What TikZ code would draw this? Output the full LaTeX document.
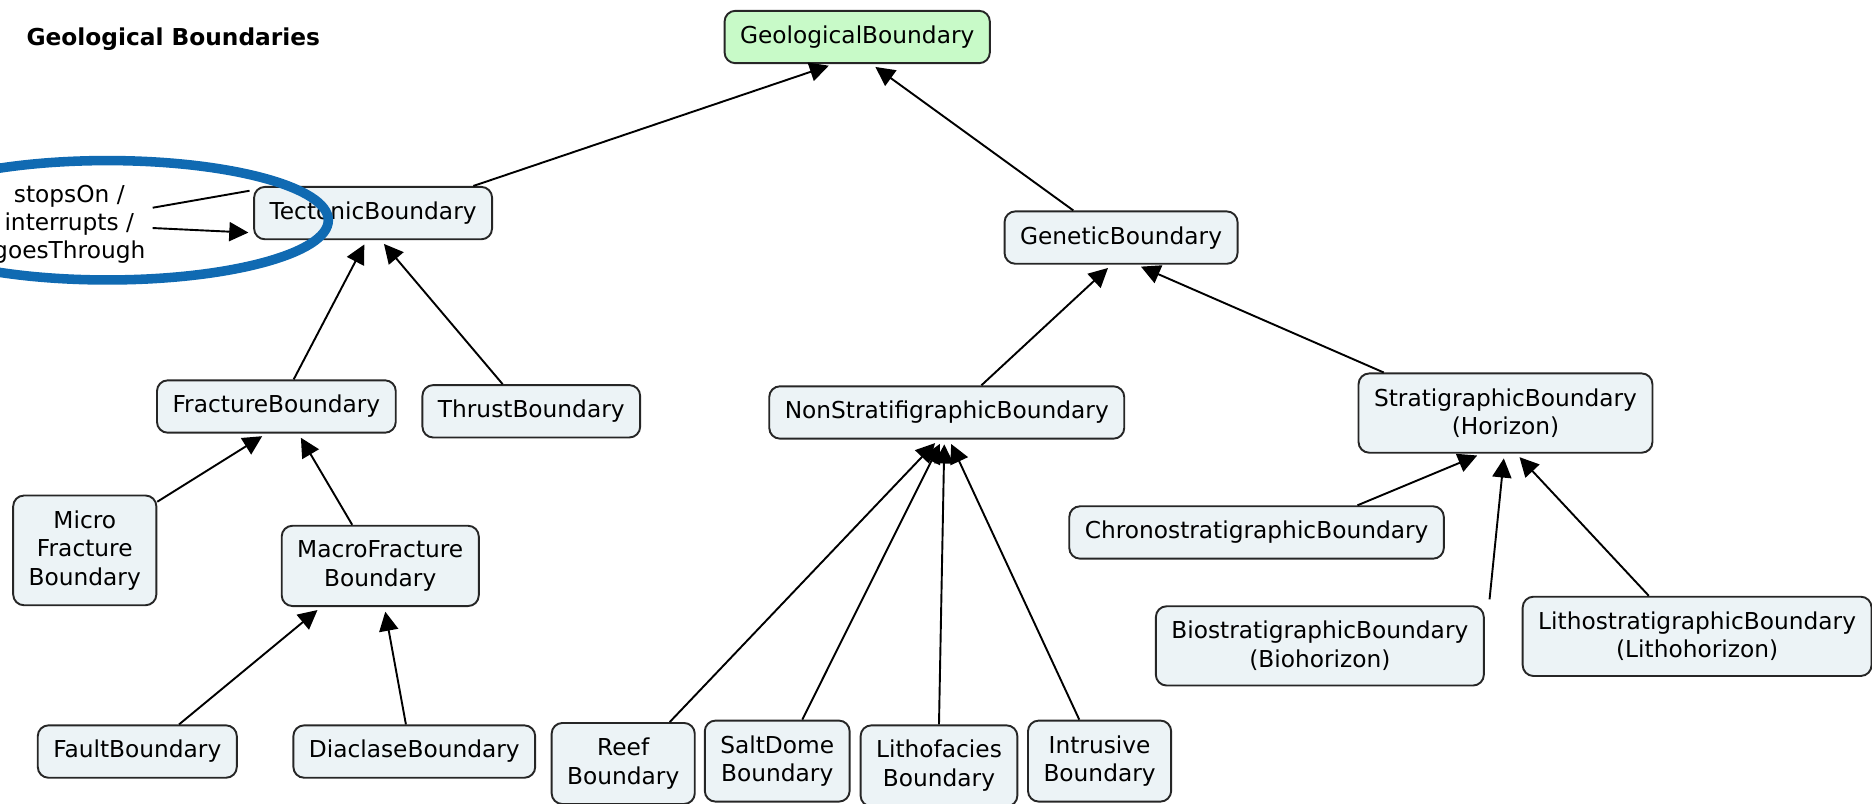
\documentclass[tikz,border=0pt]{standalone}
\usepackage{fontspec}
\setmainfont{DejaVu Sans}
\usetikzlibrary{arrows.meta}
\definecolor{conceptfill}{RGB}{236,243,246}
\definecolor{rootfill}{RGB}{200,250,200}
\definecolor{markblue}{RGB}{16,106,178}
\tikzset{
	concept/.style={draw=black!85, line width=1.6pt, rounded corners=9pt, fill=conceptfill,
		align=center, inner xsep=13pt, inner ysep=12.5pt, font=\fontsize{19.5}{24}\selectfont},
	root/.style={concept, fill=rootfill},
	isa/.style={line width=1.6pt, -{Triangle[length=16pt,width=16pt]}, shorten >=4pt},
	linkline/.style={line width=1.6pt}
}

\begin{document}
\begin{tikzpicture}[x=1pt,y=1pt]
				\useasboundingbox (0,0) rectangle (1568,673);
				
				\node[anchor=west, inner sep=0, font=\fontsize{19.5}{24}\selectfont\bfseries] (title) at (22,640) {Geological Boundaries};
				
				%drawing the concepts
				\node[root] (geo) at (718,642) {GeologicalBoundary};
				\node[concept] (tect) at (312.5,494.5) {TectonicBoundary};
				\node[concept] (gene) at (939,474) {GeneticBoundary};
				\node[concept] (fract) at (231.5,332.5) {FractureBoundary};
				\node[concept] (thrust) at (445,328.5) {ThrustBoundary};
				\node[concept] (nonstrat) at (793,327.5) {NonStratifigraphicBoundary};
				\node[concept] (strat) at (1261,327) {StratigraphicBoundary\\(Horizon)};
				\node[concept] (micro) at (71,212) {Micro\\Fracture\\Boundary};
				\node[concept] (macro) at (318.5,199) {MacroFracture\\Boundary};
				\node[concept] (chrono) at (1052.5,227) {ChronostratigraphicBoundary};
				\node[concept] (bio) at (1105.5,132) {BiostratigraphicBoundary\\(Biohorizon)};
				\node[concept] (litho) at (1421.5,140) {LithostratigraphicBoundary\\(Lithohorizon)};
				\node[concept] (fault) at (115,43.5) {FaultBoundary};
				\node[concept] (diac) at (347,43.5) {DiaclaseBoundary};
				\node[concept] (reef) at (522,33.5) {Reef\\Boundary};
				\node[concept] (salt) at (651,35.5) {SaltDome\\Boundary};
				\node[concept] (litf) at (786.5,31.5) {Lithofacies\\Boundary};
				\node[concept] (intr) at (921,35.5) {Intrusive\\Boundary};
				
				\node[inner sep=0, align=center, font=\fontsize{19.5}{23.5}\selectfont] (lbl) at (58,485) {stopsOn /\\interrupts /\\goesThrough};
				
				%drawing the links
				\draw[isa] ([xshift=84pt]tect.north) -- ([xshift=-20pt]geo.south);
				\draw[isa] ([xshift=-40pt]gene.north) -- ([xshift=12pt]geo.south);
				\draw[isa] ([xshift=14.5pt]fract.north) -- ([xshift=-5.5pt]tect.south);
				\draw[isa] ([xshift=-24pt]thrust.north) -- ([xshift=6.5pt]tect.south);
				\draw[isa] ([xshift=29pt]nonstrat.north) -- ([xshift=-8pt]gene.south);
				\draw[isa] ([xshift=-102pt]strat.north) -- ([xshift=13pt]gene.south);
				\draw[isa] ([yshift=-6pt]micro.north east) -- ([xshift=-8.5pt]fract.south);
				\draw[isa] ([xshift=-23.5pt]macro.north) -- ([xshift=18.5pt]fract.south);
				\draw[isa] ([xshift=35pt]fault.north) -- ([xshift=-49.5pt]macro.south);
				\draw[isa] ([xshift=-7pt]diac.north) -- ([xshift=3.5pt]macro.south);
				\draw[isa] ([xshift=39pt]reef.north) -- ([xshift=-7pt]nonstrat.south);
				\draw[isa] ([xshift=21pt]salt.north) -- ([xshift=-4pt]nonstrat.south);
				\draw[isa] (litf.north) -- ([xshift=-2pt]nonstrat.south);
				\draw[isa] ([xshift=-17pt]intr.north) -- ([xshift=2pt]nonstrat.south);
				\draw[isa] ([xshift=84.5pt]chrono.north) -- ([xshift=-20pt]strat.south);
				\draw[isa] ([xshift=4pt,yshift=5pt]bio.north east) -- ([xshift=-1pt]strat.south);
				\draw[isa] ([xshift=-40.5pt]litho.north) -- ([xshift=9pt]strat.south);
				
				\draw[linkline] ([xshift=6pt,yshift=14pt]lbl.east) -- ([xshift=-3pt,yshift=-4pt]tect.north west);
				\draw[isa] ([xshift=6pt,yshift=-3pt]lbl.east) -- ([yshift=-16.5pt]tect.west);
				
				%the blue mark
				\draw[markblue, line width=8pt] (90,488.5) ellipse [x radius=185, y radius=50];
			\end{tikzpicture}
\end{document}
